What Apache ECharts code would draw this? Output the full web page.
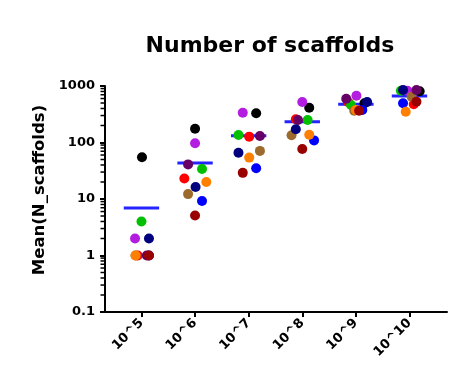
<!DOCTYPE html>
<html>
<head>
<meta charset="utf-8">
<script src="https://cdn.jsdelivr.net/npm/echarts@6/dist/echarts.min.js"></script>
<style>html,body{margin:0;padding:0;background:#fff}#c{width:468px;height:371px}</style>
</head>
<body>
<div id="c"></div>
<script>
// Categories (x) and y tick labels
var categories = ['10^5', '10^6', '10^7', '10^8', '10^9', '10^10'];
var yTickLabels = ['0.1', '1', '10', '100', '1000'];

// Series values (one per replicate colour), per category
var black   = [55, 175, 329, 413, 494, 805];
var purple  = [2, 97, 336, 521, 673, 826];
var red     = [1, 23, 127, 257, 514, 474];
var green   = [4, 34, 136, 250, 461, 826];
var brown   = [1, 12.2, 71, 134, 366, 646];
var blue    = [1, 9.2, 35, 109, 376, 494];
var orange  = [1, 20, 54, 137, 376, 351];
var plum    = [1, 41, 130, 250, 595, 849];
var navy    = [2, 16.3, 66, 171, 521, 849];
var darkred = [1, 5.1, 29, 77, 366, 527];

// Horizontal scatter jitter of each replicate within its column (category units)
var jBlack   = [0.01, 0, 0.14, 0.13, 0.16, 0.19];
var jPurple  = [-0.12, 0, -0.11, 0, 0.01, -0.04];
var jRed     = [-0.07, -0.2, 0.01, -0.12, -0.14, 0.08];
var jGreen   = [0, 0.13, -0.19, 0.1, -0.09, -0.16];
var jBrown   = [-0.11, -0.13, 0.21, -0.2, -0.03, 0.04];
var jBlue    = [0.14, 0.13, 0.14, 0.22, 0.12, -0.12];
var jOrange  = [-0.11, 0.21, 0.01, 0.13, 0, -0.07];
var jPlum    = [0.1, -0.13, 0.21, -0.08, -0.18, 0.13];
var jNavy    = [0.14, 0.01, -0.19, -0.12, 0.21, -0.12];
var jDarkred = [0.14, 0, -0.11, 0, 0.06, 0.13];

var groups = [
  {vals: black,   jit: jBlack,   color: '#000000'},
  {vals: purple,  jit: jPurple,  color: '#b21de0'},
  {vals: red,     jit: jRed,     color: '#ff0000'},
  {vals: green,   jit: jGreen,   color: '#00c000'},
  {vals: brown,   jit: jBrown,   color: '#9c6a2c'},
  {vals: blue,    jit: jBlue,    color: '#0000ff'},
  {vals: orange,  jit: jOrange,  color: '#ff8000'},
  {vals: plum,    jit: jPlum,    color: '#660066'},
  {vals: navy,    jit: jNavy,    color: '#00007f'},
  {vals: darkred, jit: jDarkred, color: '#990000'}
];

var XMIN = 0.32, XMAX = 6.7;
var FONT = 'DejaVu Sans';

// Means per category
var means = categories.map(function (c, i) {
  var s = 0;
  groups.forEach(function (g) { s += g.vals[i]; });
  return [i + 1, s / groups.length];
});

// Minor log ticks (2..9 within each decade)
var minorVals = [];
[0.1, 1, 10, 100].forEach(function (d) {
  for (var k = 2; k <= 9; k++) minorVals.push([1, +(d * k).toPrecision(3)]);
});

var series = [];
series.push({
  type: 'custom',
  z: 1,
  silent: true,
  data: means,
  renderItem: function (params, api) {
    var x = api.value(0), y = api.value(1);
    var p1 = api.coord([x - 0.33, y]);
    var p2 = api.coord([x + 0.33, y]);
    return {type: 'line', shape: {x1: p1[0], y1: p1[1], x2: p2[0], y2: p2[1]},
            style: {stroke: '#2424ff', lineWidth: 3}};
  }
});
series.push({
  type: 'custom',
  z: 20,
  silent: true,
  clip: false,
  data: minorVals,
  renderItem: function (params, api) {
    var p = api.coord([XMIN, api.value(1)]);
    return {type: 'line', z2: 100,
            shape: {x1: p[0] - 4.5, y1: p[1], x2: p[0] - 0.5, y2: p[1]},
            style: {stroke: '#000000', lineWidth: 1.5}};
  }
});
groups.forEach(function (g, gi) {
  series.push({
    type: 'scatter',
    z: 2 + gi,
    symbol: 'circle',
    symbolSize: 10,
    itemStyle: {color: g.color, opacity: 1},
    data: g.vals.map(function (v, i) { return [i + 1 + g.jit[i], v]; })
  });
});

var chart = echarts.init(document.getElementById('c'), null, {renderer: 'canvas'});
chart.setOption({
  animation: false,
  backgroundColor: '#ffffff',
  title: {
    text: 'Number of scaffolds',
    left: 265,
    textAlign: 'center',
    top: 30,
    textStyle: {fontFamily: FONT, fontWeight: 'bold', fontSize: 22, color: '#000'}
  },
  grid: {left: 105, right: 21, top: 86, bottom: 59, containLabel: false},
  xAxis: {
    type: 'value',
    min: XMIN,
    max: XMAX,
    splitLine: {show: false},
    axisLine: {show: true, lineStyle: {color: '#000', width: 2}},
    axisTick: {show: true, length: 5, lineStyle: {color: '#000', width: 2}, customValues: [1, 2, 3, 4, 5, 6]},
    axisLabel: {
      customValues: [1, 2, 3, 4, 5, 6],
      rotate: 45,
      margin: 9,
      color: '#000',
      fontFamily: FONT,
      fontWeight: 'bold',
      fontSize: 13,
      formatter: function (v) { return categories[Math.round(v) - 1] || ''; }
    }
  },
  yAxis: {
    type: 'log',
    logBase: 10,
    min: 0.1,
    max: 1000,
    name: 'Mean(N_scaffolds)',
    nameLocation: 'middle',
    nameGap: 55,
    nameTextStyle: {fontFamily: FONT, fontWeight: 'bold', fontSize: 16.5, color: '#000', padding: [0, 0, 0, 18]},
    splitLine: {show: false},
    axisLine: {show: true, lineStyle: {color: '#000', width: 2}},
    axisTick: {show: true, length: 5, lineStyle: {color: '#000', width: 2}},
    axisLabel: {
      margin: 10,
      color: '#000',
      fontFamily: FONT,
      fontWeight: 'bold',
      fontSize: 13,
      formatter: function (v) {
        var idx = Math.round(Math.log10(v)) + 1;
        return yTickLabels[idx] || '';
      }
    }
  },
  series: series
});
</script>
</body>
</html>
